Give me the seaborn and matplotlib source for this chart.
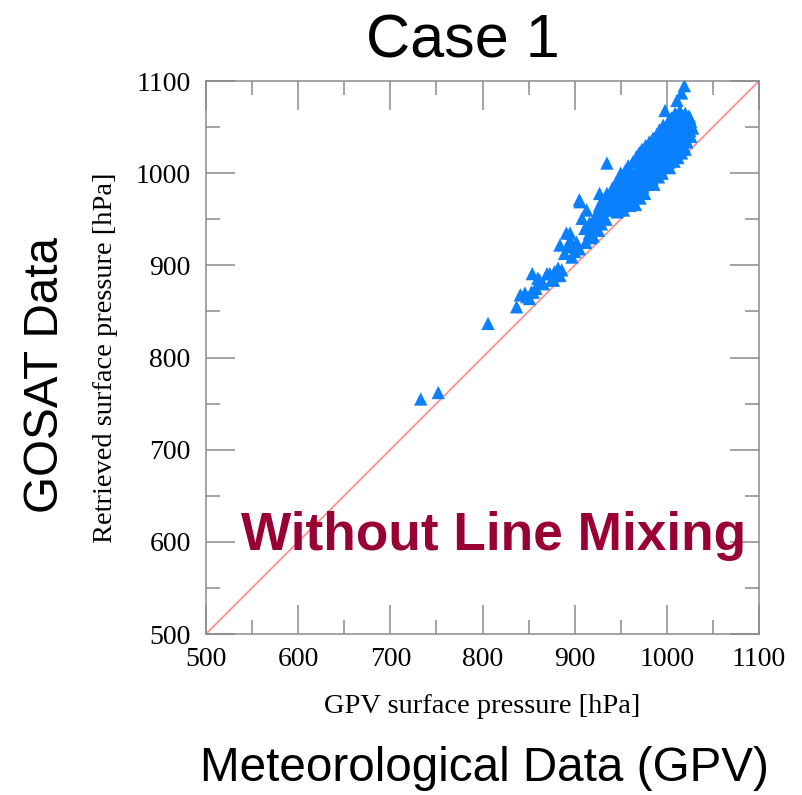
import matplotlib
matplotlib.use("Agg")
import matplotlib.pyplot as plt
import seaborn as sns
import pandas as pd
from matplotlib.ticker import MultipleLocator

# GPV (meteorological) surface pressure vs. GOSAT retrieved surface pressure [hPa]
gpv_pressure = [
    733, 752, 806, 935,
    837, 841, 846, 851, 855, 853, 854, 860, 862, 870, 873, 875, 877, 881, 882, 884,
    858, 866, 848, 878, 886,
    884, 895, 902, 897, 916, 916, 911, 908, 924, 927, 927, 935, 938, 906, 905, 930,
    891, 895, 913, 920, 918, 922, 925, 930, 933, 936, 912, 905, 900, 889, 893, 929,
    934, 926, 920,
    938, 940, 941, 942, 944, 945, 946, 947, 948, 949, 950, 950,
    951, 952, 953, 954, 955, 956, 957, 958, 958, 959, 960, 960,
    961, 962, 963, 963, 964, 965, 966, 966, 967, 968, 968, 969, 970, 970,
    971, 972, 972, 973, 974, 975, 975, 976, 977, 977, 978, 979, 980, 980,
    981, 981, 982, 983, 983, 984, 985, 985, 986, 987, 987, 988, 989, 989, 990, 990,
    991, 992, 992, 993, 993, 994, 995, 995, 996, 996, 997, 998, 998, 999, 1000, 1000, 1000,
    1001, 1002, 1002, 1003, 1003, 1004, 1005, 1005, 1006, 1006, 1007, 1008, 1008, 1009,
    1009, 1010, 1010, 1011,
    1011, 1012, 1012, 1013, 1014, 1014, 1015, 1015, 1016, 1016, 1017, 1017, 1018, 1019,
    1019, 1020, 1020, 1020,
    1021, 1022, 1022, 1023, 1024, 1024, 1025, 1026, 1027, 1028, 1026, 1025,
]
retrieved_pressure = [
    755, 762, 837, 1011,
    855, 868, 870, 864, 871, 871, 891, 886, 884, 891, 891, 884, 884, 889, 897, 889,
    875, 880, 866, 893, 895,
    922, 935, 925, 909, 935, 946, 940, 951, 957, 965, 978, 978, 960, 969, 971, 971,
    935, 927, 960, 948, 930, 940, 950, 955, 963, 970, 925, 918, 915, 913, 920, 945,
    950, 938, 932,
    960, 975, 984, 965, 970, 990, 958, 978, 995, 966, 985, 1000,
    972, 992, 960, 980, 1003, 968, 988, 975, 1008, 995, 965, 982,
    1000, 972, 990, 1012, 978, 998, 966, 985, 1018, 975, 1005, 992, 1022, 982,
    973, 1010, 995, 1026, 985, 1002, 1015, 978, 995, 1030, 1008, 988, 1020, 998,
    1034, 990, 1012, 1002, 1026, 994, 1038, 1015, 988, 1006, 1030, 1020, 998, 1042, 1012, 1026,
    996, 1047, 1035, 1018, 1005, 1028, 1040, 1000, 1015, 1052, 1024, 1036, 1068, 1008, 1045, 1020, 1030,
    1055, 1012, 1038, 1025, 1006, 1048, 1032, 1060, 1018, 1042, 1028, 1052, 1013, 1036,
    1065, 1022, 1045, 1079,
    1030, 1058, 1017, 1040, 1068, 1026, 1050, 1035, 1087, 1022, 1060, 1044, 1030, 1054,
    1095, 1038, 1065, 1026,
    1048, 1058, 1034, 1042, 1062, 1052, 1046, 1056, 1050, 1049, 1040, 1060,
]
axis_limits = [500, 1100]
tick_values = [500, 600, 700, 800, 900, 1000, 1100]

df = pd.DataFrame({"gpv": gpv_pressure, "retrieved": retrieved_pressure})

sns.set_style("ticks")
plt.rcParams["font.family"] = ["Liberation Serif", "DejaVu Serif"]
plt.rcParams["text.color"] = "black"
plt.rcParams["axes.labelcolor"] = "black"

fig = plt.figure(figsize=(8.02, 7.95), dpi=100)
ax = fig.add_axes([206 / 802, 1 - 634 / 795, 553 / 802, 553 / 795])

# 1:1 reference line
ax.plot(axis_limits, axis_limits, color="#ff8f8f", lw=1.3, zorder=1)

sns.scatterplot(data=df, x="gpv", y="retrieved", marker="^", s=92,
                color="#0a80ff", edgecolor="none", linewidth=0, ax=ax, zorder=3)

ax.set_xlim(axis_limits)
ax.set_ylim(axis_limits)
ax.set_xticks(tick_values)
ax.set_yticks(tick_values)
ax.xaxis.set_minor_locator(MultipleLocator(50))
ax.yaxis.set_minor_locator(MultipleLocator(50))
ax.tick_params(which="both", direction="in", top=True, right=True,
               color="#8a8a8a", width=1.1, labelsize=20, labelcolor="black")
ax.tick_params(which="major", length=21)
ax.tick_params(which="minor", length=10)
ax.tick_params(axis="x", pad=9)
ax.tick_params(axis="y", pad=11)
for sp in ax.spines.values():
    sp.set_color("#8a8a8a")
    sp.set_linewidth(1.1)

ax.set_xlabel("GPV surface pressure [hPa]", fontsize=20.5)
ax.set_ylabel("Retrieved surface pressure [hPa]", fontsize=20.5)
ax.xaxis.set_label_coords(0.5, (634 - 694) / 553)
ax.yaxis.set_label_coords((118 - 206) / 553, 0.5)

ax.text(0.52, 0.152, "Without Line Mixing", transform=ax.transAxes,
        ha="center", va="baseline", fontsize=38.3, fontweight="bold",
        color="#990033", family=["Liberation Sans", "DejaVu Sans"], zorder=4)

sans = ["Liberation Sans", "DejaVu Sans"]
fig.text(463 / 802, 1 - 57 / 795, "Case 1", ha="center", va="baseline",
         fontsize=44, family=sans)
fig.text(485 / 802, 1 - 781 / 795, "Meteorological Data (GPV)", ha="center",
         va="baseline", fontsize=34.3, family=sans)
fig.text(58 / 802, 1 - 375 / 795, "GOSAT Data", rotation=90, rotation_mode="anchor",
         ha="center", va="baseline", fontsize=34.3, family=sans)

fig.savefig("out.png", dpi=100)
